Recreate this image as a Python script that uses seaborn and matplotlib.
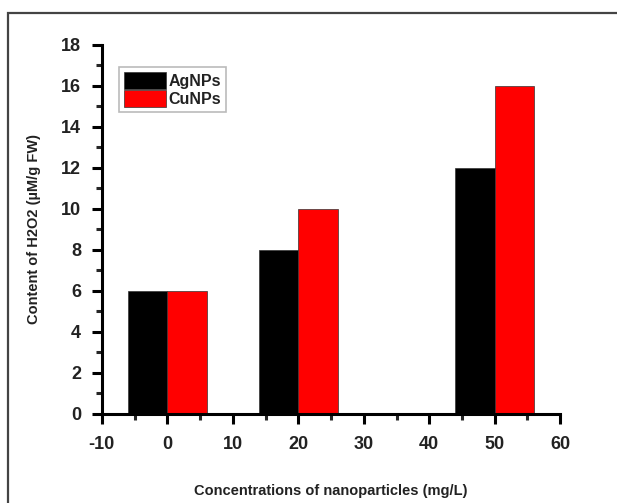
import matplotlib
matplotlib.use("Agg")
import matplotlib.pyplot as plt
import seaborn as sns
import pandas as pd
from matplotlib.patches import Rectangle
from matplotlib.ticker import MultipleLocator

concentrations = [0, 20, 50]
agnps = [6, 8, 12]
cunps = [6, 10, 16]
series_names = ["AgNPs", "CuNPs"]
colors = ["#000000", "#ff0000"]

df = pd.DataFrame({
    "conc": concentrations * 2,
    "value": agnps + cunps,
    "np": [series_names[0]] * 3 + [series_names[1]] * 3,
})

sns.set_style("ticks")
plt.rcParams["font.family"] = ["Liberation Sans", "DejaVu Sans"]
plt.rcParams["font.weight"] = "bold"
plt.rcParams["axes.unicode_minus"] = False

fig = plt.figure(figsize=(6.17, 5.03), dpi=100)
ax = fig.add_axes([0.165, 0.177, 0.743, 0.734])

sns.barplot(data=df, x="conc", y="value", hue="np", native_scale=True,
            palette=colors, saturation=1, width=0.6, dodge=True, gap=0,
            edgecolor="#333333", linewidth=0.5, ax=ax, errorbar=None)

ax.set_xlim(-10, 60)
ax.set_ylim(0, 18)
ax.xaxis.set_major_locator(MultipleLocator(10))
ax.xaxis.set_minor_locator(MultipleLocator(5))
ax.yaxis.set_major_locator(MultipleLocator(2))
ax.yaxis.set_minor_locator(MultipleLocator(1))

for s in ["top", "right"]:
    ax.spines[s].set_visible(False)
for s in ["left", "bottom"]:
    ax.spines[s].set_linewidth(2.2)
    ax.spines[s].set_color("black")

ax.tick_params(which="major", direction="out", length=7, width=2.2,
               labelsize=13, colors="black")
ax.tick_params(which="minor", direction="out", length=4, width=2.2)
ax.tick_params(axis="x", which="major", pad=9)
ax.tick_params(axis="y", which="major", pad=8)
for lbl in ax.get_xticklabels() + ax.get_yticklabels():
    lbl.set_fontweight("bold")
    lbl.set_color("#222222")

ax.set_xlabel("Concentrations of nanoparticles (mg/L)", fontsize=10.5,
              fontweight="bold", color="#222222", labelpad=22)
ax.set_ylabel("Content of H2O2 (\u00b5M/g FW)", fontsize=10.5,
              fontweight="bold", color="#222222", labelpad=14)

handles, labels = ax.get_legend_handles_labels()
leg = ax.legend(handles, labels, loc="upper left",
                bbox_to_anchor=(0.038, 0.94), frameon=True, fancybox=False,
                edgecolor="#aaaaaa", handlelength=2.6, handleheight=1.3,
                handletextpad=0.2, borderpad=0.3, labelspacing=0.05,
                borderaxespad=0, prop={"weight": "bold", "size": 11.5})
leg.get_frame().set_linewidth(1.2)
for t in leg.get_texts():
    t.set_color("#222222")

fig.patches.append(Rectangle((8 / 617, -0.5), 3.0, 1 - 13 / 503 + 0.5,
                             transform=fig.transFigure, fill=False,
                             edgecolor="#444444", linewidth=1.6))

fig.savefig("out.png", dpi=100)
